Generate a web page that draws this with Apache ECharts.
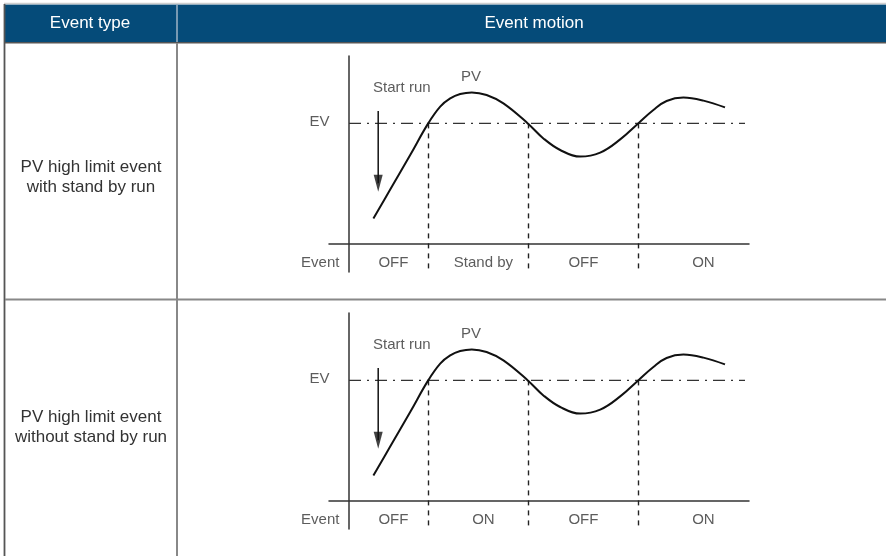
<!DOCTYPE html>
<html>
<head>
<meta charset="utf-8">
<title>PV high limit event</title>
<script src="https://cdn.jsdelivr.net/npm/echarts@6.0.0/dist/echarts.min.js"></script>
<style>
html, body { margin: 0; padding: 0; background: #fff; }
#chart { width: 886px; height: 556px; }
</style>
</head>
<body>
<div id="chart"></div>
<script>
const headers = ['Event type', 'Event motion']
const eventTypes = ['PV high limit event\nwith stand by run', 'PV high limit event\nwithout stand by run']

// PV curve as (time, value); both panels share the same curve
const pvTime = [6.1, 10.3, 15.3, 19.8, 22.8, 25.3, 27.8, 30.7, 34.4, 38.6, 44.7, 48.6, 52.8, 57.8, 62.8, 67.8, 72.3, 76.1, 79.4, 83.6, 88.6, 94]
const pvValue = [12.8, 27.2, 44.5, 60.3, 68.7, 72.8, 75, 75.8, 74.5, 70.3, 60.3, 52.8, 47, 43.7, 45.7, 52.3, 60.3, 67, 71.5, 73.2, 71.7, 68.3]
const evLevel = 60.3
const evEnd = 99
const crossTimes = [19.8, 44.7, 72.3]
const startRunTime = 7.3
const startRunFrom = 66.5
const arrowHead = 30.4   // centre of the arrow head, tip ~8px below

const stateTimes = [11.1, 33.6, 58.6, 88.6]
const eventStates = [
  ['OFF', 'Stand by', 'OFF', 'ON'],
  ['OFF', 'ON', 'OFF', 'ON']
]

const FONT = '"Liberation Sans", Arial, sans-serif'
const TEXT = '#333'
const gridTops = [56, 313]
const Y_MIN = -14
const Y_MAX = 94

const chart = echarts.init(document.getElementById('chart'))

const grids = []
const xAxes = []
const yAxes = []
const series = []

gridTops.forEach((top, i) => {
  grids.push({ left: 329, width: 420, top, height: 216 })
  const axisBase = {
    gridIndex: i,
    type: 'value',
    axisTick: { show: false },
    axisLabel: { show: false },
    splitLine: { show: false },
    axisLine: { show: true, onZero: true, lineStyle: { color: '#333', width: 1.5 } }
  }
  xAxes.push({ ...axisBase, min: -5, max: 100 })
  yAxes.push({ ...axisBase, min: Y_MIN, max: Y_MAX })

  const ax = { xAxisIndex: i, yAxisIndex: i }

  // EV set level (dash-dot)
  series.push({
    ...ax,
    type: 'line',
    data: [[0, evLevel], [evEnd, evLevel]],
    symbol: 'none',
    silent: true,
    lineStyle: { color: '#333', width: 1.3, type: [12, 6, 2, 6] }
  })

  // crossing markers down to event row
  series.push({
    ...ax,
    type: 'lines',
    coordinateSystem: 'cartesian2d',
    silent: true,
    data: crossTimes.map(t => ({ coords: [[t, evLevel], [t, Y_MIN]] })),
    lineStyle: { color: '#222', width: 1.4, type: [5, 5], opacity: 1 }
  })

  // start run arrow: shaft + head
  series.push({
    ...ax,
    type: 'line',
    symbol: 'none',
    silent: true,
    data: [[startRunTime, startRunFrom], [startRunTime, arrowHead]],
    lineStyle: { color: '#111', width: 1.5 }
  })
  series.push({
    ...ax,
    type: 'scatter',
    silent: true,
    symbol: 'triangle',
    symbolRotate: 180,
    symbolSize: [9, 17],
    data: [[startRunTime, arrowHead]],
    itemStyle: { color: '#111' }
  })

  // PV curve
  series.push({
    ...ax,
    type: 'line',
    smooth: 0.4,
    symbol: 'none',
    silent: true,
    z: 5,
    data: pvTime.map((t, k) => [t, pvValue[k]]),
    lineStyle: { color: '#111', width: 2 }
  })

  // text labels
  const lbl = (name, value, position) => ({
    name,
    value,
    label: { show: true, position, distance: 0, formatter: '{b}', color: TEXT, fontSize: 15, fontFamily: FONT }
  })
  series.push({
    ...ax,
    type: 'scatter',
    symbolSize: 0,
    silent: true,
    data: [
      lbl('Start run', [13.2, 77.9], 'inside'),
      lbl('PV', [30.5, 83.7], 'inside'),
      lbl('EV', [-4.9, 61], 'left'),
      lbl('Event', [-2.4, -9.2], 'left'),
      ...eventStates[i].map((s, k) => lbl(s, [stateTimes[k], -9.2], 'inside'))
    ]
  })
})

const line = (x1, y1, x2, y2, color, width) => ({
  type: 'line',
  silent: true,
  shape: { x1, y1, x2, y2 },
  style: { stroke: color, lineWidth: width }
})

const graphic = [
  { type: 'rect', silent: true, shape: { x: 5, y: 4.5, width: 881, height: 37.5 }, style: { fill: '#054b79' } },
  line(4, 3.5, 886, 3.5, '#cfcfcf', 1.5),
  line(4, 42.75, 886, 42.75, '#555', 1.5),
  line(4.5, 4, 4.5, 556, '#555', 1.8),
  line(177, 5, 177, 42, '#9fb3c6', 1.5),
  line(177, 43, 177, 556, '#888', 2),
  line(5, 299.5, 886, 299.5, '#888', 2),
  { type: 'text', silent: true, x: 90, y: 23, style: { text: headers[0], fill: '#fff', font: '17px ' + FONT, align: 'center', verticalAlign: 'middle' } },
  { type: 'text', silent: true, x: 534, y: 23, style: { text: headers[1], fill: '#fff', font: '17px ' + FONT, align: 'center', verticalAlign: 'middle' } },
  { type: 'text', silent: true, x: 91, y: 177, style: { text: eventTypes[0], fill: TEXT, font: '17px ' + FONT, lineHeight: 20, align: 'center', verticalAlign: 'middle' } },
  { type: 'text', silent: true, x: 91, y: 427, style: { text: eventTypes[1], fill: TEXT, font: '17px ' + FONT, lineHeight: 20, align: 'center', verticalAlign: 'middle' } }
]

chart.setOption({
  animation: false,
  grid: grids,
  xAxis: xAxes,
  yAxis: yAxes,
  series,
  graphic
})
</script>
</body>
</html>
